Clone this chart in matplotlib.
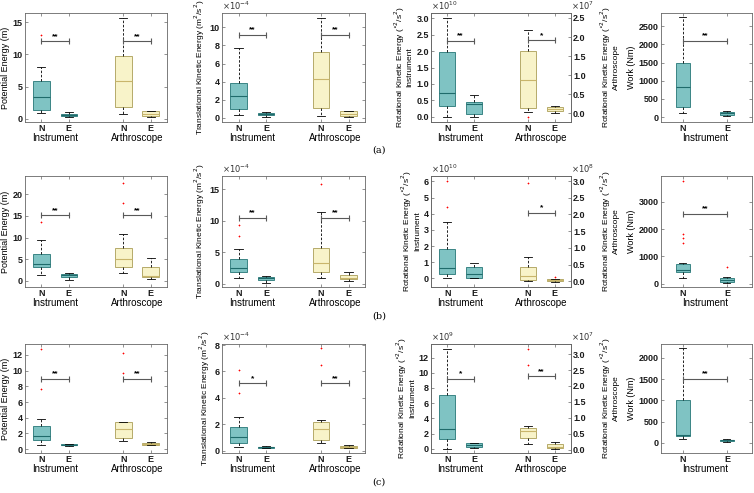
import matplotlib.pyplot as plt

plt.rcParams['font.family'] = ['Liberation Sans', 'DejaVu Sans']

teal = '#7fc3c3'
teal_edge = '#3a8585'
teal_med = '#1f6b6b'
yellow = '#f8f3c9'
yellow_edge = '#b5aa6a'
yellow_med = '#c9b56b'

groups = ['Instrument', 'Arthroscope']
box_ticks = ['N', 'E', 'N', 'E']

# [whisker low, q1, median, q3, whisker high] per box
# order: Instrument N, Instrument E, Arthroscope N, Arthroscope E
pe_a = [[0.9, 1.4, 3.4, 5.8, 8.0], [0.2, 0.45, 0.6, 0.8, 1.0],
        [0.8, 1.9, 5.8, 9.8, 15.6], [0.35, 0.45, 0.8, 1.15, 1.25]]
pe_a_out = [[13.0], [], [], []]
tke_a = [[0.3, 1.0, 2.45, 3.85, 7.7], [0.1, 0.25, 0.4, 0.55, 0.65],
         [0.2, 1.1, 4.25, 7.33, 11.1], [0.1, 0.22, 0.45, 0.75, 0.78]]
tke_a_out = [[], [], [], []]
rke_a = [[0.0, 0.33, 0.71, 1.96, 3.0], [0.0, 0.07, 0.38, 0.44, 0.65],
         [0.02, 0.15, 0.87, 1.62, 2.19], [0.0, 0.06, 0.12, 0.16, 0.18]]
rke_a_out = [[], [], [-0.1], []]
work_a = [[119, 284, 833, 1502, 2756], [27, 46, 100, 146, 165]]
work_a_out = [[], []]

pe_b = [[1.3, 3.1, 3.8, 6.1, 9.5], [0.3, 0.9, 1.3, 1.7, 1.9],
        [1.8, 3.1, 5.0, 7.7, 10.9], [0.45, 0.9, 1.15, 3.1, 5.2]]
pe_b_out = [[13.5], [], [18.0, 22.6], []]
tke_b = [[0.9, 1.9, 2.5, 3.95, 5.5], [0.2, 0.63, 0.85, 1.05, 1.2],
         [0.95, 1.95, 3.3, 5.7, 11.4], [0.4, 0.75, 0.9, 1.45, 1.9]]
tke_b_out = [[7.6, 9.3], [], [15.9], []]
rke_b = [[0.04, 0.29, 0.66, 1.83, 3.49], [0.0, 0.02, 0.25, 0.7, 0.97],
         [0.0, 0.03, 0.15, 0.43, 0.72], [-0.01, 0.01, 0.03, 0.07, 0.08]]
rke_b_out = [[4.4, 6.0], [], [2.95], [0.13]]
work_b = [[200, 412, 512, 725, 740], [20, 60, 140, 210, 230]]
work_b_out = [[1475, 1662, 1825, 3762], [600]]

pe_c = [[0.54, 1.13, 1.72, 2.89, 3.85], [0.38, 0.46, 0.5, 0.59, 0.63],
        [1.05, 1.42, 2.6, 3.43, 3.5], [0.46, 0.5, 0.63, 0.8, 0.84]]
pe_c_out = [[7.7, 12.76], [], [9.7, 12.3], []]
tke_c = [[0.31, 0.59, 1.07, 1.76, 2.58], [0.18, 0.2, 0.26, 0.31, 0.36],
         [0.61, 0.77, 1.64, 2.2, 2.35], [0.18, 0.2, 0.28, 0.33, 0.41]]
tke_c_out = [[4.35, 6.09], [], [6.5, 7.75], []]
rke_c = [[0.0, 1.34, 2.64, 7.1, 13.1], [0.13, 0.22, 0.43, 0.69, 0.74],
         [0.17, 0.36, 0.57, 0.67, 0.74], [0.02, 0.05, 0.09, 0.16, 0.25]]
rke_c_out = [[], [], [2.67, 3.16], []]
work_c = [[86, 173, 188, 1012, 2227], [31, 39, 63, 78, 86]]
work_c_out = [[], []]

# significance: (box i, box j, height, stars)
sig_pe = [[(1, 2, 12.0, '**'), (4, 5, 12.0, '**')],
          [(1, 2, 15.15, '**'), (4, 5, 15.15, '**')],
          [(1, 2, 8.95, '**'), (4, 5, 8.95, '**')]]
sig_tke = [[(1, 2, 9.15, '**'), (4, 5, 9.15, '**')],
           [(1, 2, 10.5, '**'), (4, 5, 10.5, '**')],
           [(1, 2, 5.1, '*'), (4, 5, 5.1, '**')]]
sig_rke_left = [[(1, 2, 2.32, '**')], [], [(1, 2, 9.19, '*')]]
sig_rke_right = [[(4, 5, 1.91, '*')], [(4, 5, 2.04, '*')], [(4, 5, 2.3, '**')]]
sig_work = [[(1, 2, 2097, '**')], [(1, 2, 2562, '**')], [(1, 2, 1498, '**')]]

pe_all = [(pe_a, pe_a_out), (pe_b, pe_b_out), (pe_c, pe_c_out)]
tke_all = [(tke_a, tke_a_out), (tke_b, tke_b_out), (tke_c, tke_c_out)]
rke_all = [(rke_a, rke_a_out), (rke_b, rke_b_out), (rke_c, rke_c_out)]
work_all = [(work_a, work_a_out), (work_b, work_b_out), (work_c, work_c_out)]

pe_lim = [(-0.5, 16.4, [0, 5, 10, 15]), (-1.4, 24.2, [0, 5, 10, 15, 20]),
          (-0.5, 13.4, [0, 2, 4, 6, 8, 10, 12])]
tke_lim = [(-0.48, 11.6, [0, 2, 4, 6, 8, 10]), (-0.5, 17.1, [0, 5, 10, 15]),
           (-0.18, 8.08, [0, 2, 4, 6, 8])]
rke_left_lim = [(-0.16, 3.16, [0, 0.5, 1, 1.5, 2, 2.5, 3]), (-0.53, 6.34, [0, 1, 2, 3, 4, 5, 6]),
                (-0.56, 13.78, [0, 2, 4, 6, 8, 10, 12])]
rke_right_lim = [(-0.23, 2.63, [0, 0.5, 1, 1.5, 2, 2.5]), (-0.17, 3.15, [0, 0.5, 1, 1.5, 2, 2.5, 3]),
                 (-0.11, 3.32, [0, 0.5, 1, 1.5, 2, 2.5, 3])]
work_lim = [(-137, 2866, [0, 500, 1000, 1500, 2000, 2500]), (-125, 3950, [0, 1000, 2000, 3000]),
            (-235, 2321, [0, 500, 1000, 1500, 2000])]
tke_exp = '-4'
rke_left_exp = ['10', '10', '9']
rke_right_exp = ['7', '8', '7']

row_bottom = [1 - 122 / 493, 1 - 287 / 493, 1 - 453 / 493]
row_height = [109 / 493, 111 / 493, 109 / 493]
col_left = [25 / 754, 222 / 754, 431 / 754, 661 / 754]
col_width = [142 / 754, 143 / 754, 140 / 754, 91 / 754]
row_tags = ['(a)', '(b)', '(c)']
tag_y = [1 - 150 / 493, 1 - 316 / 493, 1 - 482 / 493]

fs = 6.5


def style(ax, right=True):
    for s in ax.spines.values():
        s.set_color('0.4')
        s.set_linewidth(0.6)
    ax.tick_params(direction='in', length=2, width=0.5, top=True, right=right,
                   labelsize=fs, pad=1.5, colors='0.4', labelcolor='0.1')
    for lab in ax.get_yticklabels() + ax.get_xticklabels():
        lab.set_fontweight('bold')


def draw(ax, summary, out, positions, colors, width):
    stats = []
    for s, o in zip(summary, out):
        stats.append(dict(whislo=s[0], q1=s[1], med=s[2], q3=s[3], whishi=s[4], fliers=o))
    bp = ax.bxp(stats, positions=positions, widths=width, patch_artist=True,
                manage_ticks=False,
                whiskerprops=dict(color='k', linestyle=(0, (3, 2)), linewidth=0.6),
                capprops=dict(color='k', linewidth=0.6),
                flierprops=dict(marker='+', markeredgecolor='red', markersize=2,
                                markeredgewidth=0.5, linestyle='none'))
    for i, b in enumerate(bp['boxes']):
        fc, ec, mc = colors[i]
        b.set_facecolor(fc)
        b.set_edgecolor(ec)
        b.set_linewidth(0.7)
        bp['medians'][i].set_color(mc)
        bp['medians'][i].set_linewidth(0.8)


def sig(ax, items):
    for x1, x2, y, star in items:
        ax.plot([x1, x2], [y, y], color='0.35', lw=0.8, marker='|', markersize=4,
                markeredgewidth=0.8)
        ax.annotate(star, xy=((x1 + x2) / 2, y), xytext=(0, 1), textcoords='offset points',
                    ha='center', va='bottom', fontsize=6, fontweight='bold')


def group_labels(ax, centers, names):
    for c, g in zip(centers, names):
        ax.annotate(g, xy=(c, 0), xycoords=('data', 'axes fraction'), xytext=(0, -11.5),
                    textcoords='offset points', ha='center', va='center', fontsize=7)


tc = (teal, teal_edge, teal_med)
yc = (yellow, yellow_edge, yellow_med)
pos4 = [1, 2, 4, 5]

fig = plt.figure(figsize=(7.54, 4.93), dpi=100)

for r in range(3):
    b, h = row_bottom[r], row_height[r]

    # potential energy
    ax = fig.add_axes([col_left[0], b, col_width[0], h])
    draw(ax, pe_all[r][0], pe_all[r][1], pos4, [tc, tc, yc, yc], 0.6)
    sig(ax, sig_pe[r])
    ax.set_xlim(0.4, 5.6)
    ax.set_ylim(pe_lim[r][0], pe_lim[r][1])
    ax.set_yticks(pe_lim[r][2])
    ax.set_xticks(pos4, box_ticks)
    ax.set_ylabel('Potential Energy (m)', fontsize=fs, labelpad=2)
    style(ax)
    group_labels(ax, [1.5, 4.5], groups)

    # translational kinetic energy
    ax = fig.add_axes([col_left[1], b, col_width[1], h])
    draw(ax, tke_all[r][0], tke_all[r][1], pos4, [tc, tc, yc, yc], 0.6)
    sig(ax, sig_tke[r])
    ax.set_xlim(0.4, 5.6)
    ax.set_ylim(tke_lim[r][0], tke_lim[r][1])
    ax.set_yticks(tke_lim[r][2])
    ax.set_xticks(pos4, box_ticks)
    ax.set_ylabel('Translational Kinetic Energy (m$^2$/s$^2$)', fontsize=6, labelpad=2)
    ax.text(0, 1.01, r'$\times10^{%s}$' % tke_exp, transform=ax.transAxes, fontsize=6,
            ha='left', va='bottom', color='0.2')
    style(ax)
    group_labels(ax, [1.5, 4.5], groups)

    # rotational kinetic energy (two y axes)
    ax = fig.add_axes([col_left[2], b, col_width[2], h])
    draw(ax, rke_all[r][0][:2], rke_all[r][1][:2], [1, 2], [tc, tc], 0.6)
    sig(ax, sig_rke_left[r])
    ax.set_xlim(0.4, 5.6)
    ax.set_ylim(rke_left_lim[r][0], rke_left_lim[r][1])
    ax.set_yticks(rke_left_lim[r][2])
    ax.set_xticks(pos4, box_ticks)
    ax.set_ylabel('Rotational Kinetic Energy ($^{\\circ 2}$/s$^2$)\nInstrument',
                  fontsize=6, labelpad=2, linespacing=1.0)
    ax.text(0, 1.01, r'$\times10^{%s}$' % rke_left_exp[r], transform=ax.transAxes,
            fontsize=6, ha='left', va='bottom', color='0.2')
    style(ax, right=False)
    group_labels(ax, [1.5, 4.5], groups)
    ax2 = ax.twinx()
    draw(ax2, rke_all[r][0][2:], rke_all[r][1][2:], [4, 5], [yc, yc], 0.6)
    sig(ax2, sig_rke_right[r])
    ax2.set_ylim(rke_right_lim[r][0], rke_right_lim[r][1])
    ax2.set_yticks(rke_right_lim[r][2])
    ax2.set_ylabel('Rotational Kinetic Energy ($^{\\circ 2}$/s$^2$)\nArthroscope',
                   fontsize=6, labelpad=9, linespacing=1.0)
    ax2.text(1.0, 1.01, r'$\times10^{%s}$' % rke_right_exp[r], transform=ax2.transAxes,
             fontsize=6, ha='left', va='bottom', color='0.2')
    style(ax2)
    ax2.tick_params(left=False, top=False)

    # work
    ax = fig.add_axes([col_left[3], b, col_width[3], h])
    draw(ax, work_all[r][0], work_all[r][1], [1, 2], [tc, tc], 0.32)
    sig(ax, sig_work[r])
    ax.set_xlim(0.5, 2.57)
    ax.set_ylim(work_lim[r][0], work_lim[r][1])
    ax.set_yticks(work_lim[r][2])
    ax.set_xticks([1, 2], box_ticks[:2])
    ax.set_ylabel('Work (Nm)', fontsize=fs, labelpad=2)
    style(ax)
    group_labels(ax, [1.5], groups[:1])

    fig.text(372 / 754, tag_y[r], row_tags[r], fontsize=7, family='DejaVu Serif',
             ha='left', va='center')

fig.savefig('out.png', dpi=100)
